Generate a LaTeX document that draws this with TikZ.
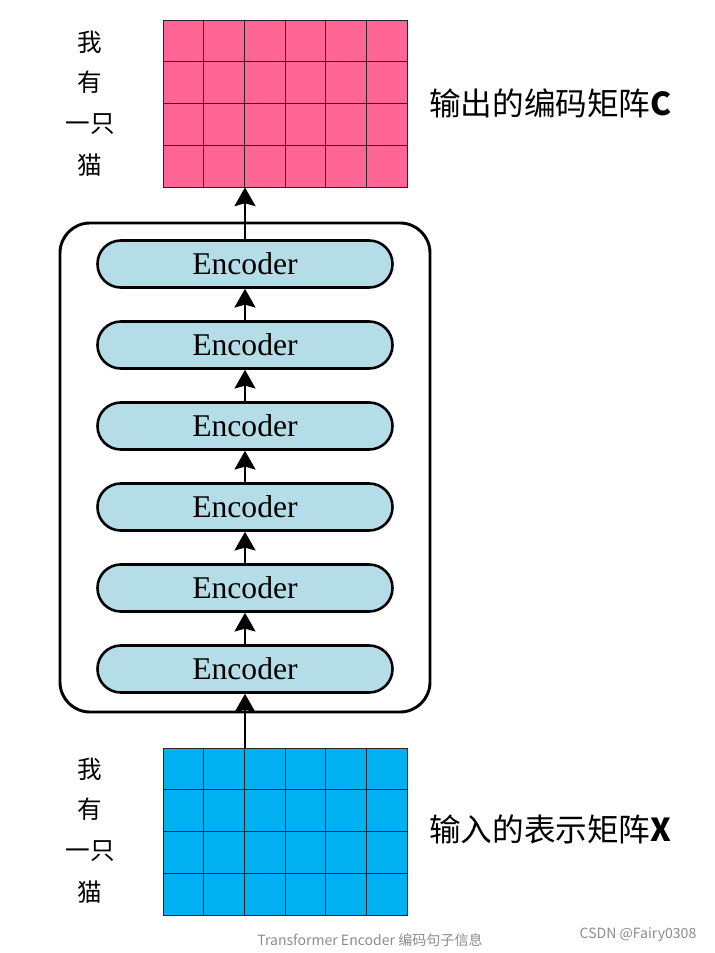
\documentclass[tikz,border=0pt]{standalone}
\usepackage{fontspec}
\setmainfont{Liberation Serif}
\newfontfamily\cjk{Noto Sans CJK SC}
\usetikzlibrary{arrows.meta, calc}
\definecolor{OutPink}{RGB}{255,102,150}
\definecolor{InBlue}{RGB}{0,176,240}
\definecolor{EncBlue}{RGB}{180,221,232}
\definecolor{NoteGray}{RGB}{140,140,140}

\begin{document}
\begin{tikzpicture}[x=0.03cm, y=-0.03cm, >={Stealth[length=16pt, width=18pt, inset=2.5pt]},
  encbox/.style={draw, line width=2.2pt, fill=EncBlue, rounded corners=0.7cm, minimum width=8.85cm, minimum height=1.41cm, inner sep=0pt, font=\fontsize{27}{30}\selectfont},
  matbox/.style={draw=black!85, line width=0.7pt, minimum width=7.32cm, minimum height=5.01cm, inner sep=0pt},
  word/.style={font=\cjk\fontsize{21}{24}\selectfont},
  matlabel/.style={anchor=west, font=\cjk\fontsize{27}{30}\selectfont},
  note/.style={text=NoteGray, font=\cjk\fontsize{12}{14}\selectfont},
  flow/.style={->, line width=1.8pt}]
    \useasboundingbox (0,0) rectangle (714,953);
    % the two matrices with their grids
    \foreach \m/\c/\y in {outmat/OutPink/103.5, inmat/InBlue/831.5} {
        \node[matbox, fill=\c] (\m) at (285,\y) {};
        \foreach \i in {1,...,5}
            \draw[black!85, line width=0.7pt] ($(\m.north west)!\i/6!(\m.north east)$) -- ($(\m.south west)!\i/6!(\m.south east)$);
        \foreach \j in {1,2,3}
            \draw[black!85, line width=0.7pt] ($(\m.north west)!\j/4!(\m.south west)$) -- ($(\m.north east)!\j/4!(\m.south east)$);
    }
    % encoder stack
    \node[draw, line width=2.5pt, rounded corners=0.9cm, minimum width=11.1cm, minimum height=14.67cm] (stack) at (245,467.5) {};
    \foreach \k in {1,...,6}
        \node[encbox] (enc\k) at (245,750-81*\k) {Encoder};
    \foreach \k [count=\n from 2] in {1,...,5}
        \draw[flow] (enc\k.north) -- (enc\n.south);
    \draw[flow] (enc1.south |- inmat.north) -- (enc1.south);
    \draw[flow] (enc6.north) -- (enc6.north |- outmat.south);
    % words of the sentence
    \foreach \w/\y [count=\n] in {我/42, 有/82, 一只/124, 猫/165} {
        \node[word] (topword\n) at (90,\y) {\w};
        \node[word] (lowword\n) at (90,\y+727) {\w};
    }
    \node[matlabel] (outlabel) at (425,103) {输出的编码矩阵\textbf{C}};
    \node[matlabel] (inlabel) at (425,829) {输入的表示矩阵\textbf{X}};
    \node[note] (caption) at (370,940) {Transformer Encoder 编码句子信息};
    \node[note] (mark) at (638,935) {CSDN @Fairy0308};
\end{tikzpicture}
\end{document}
